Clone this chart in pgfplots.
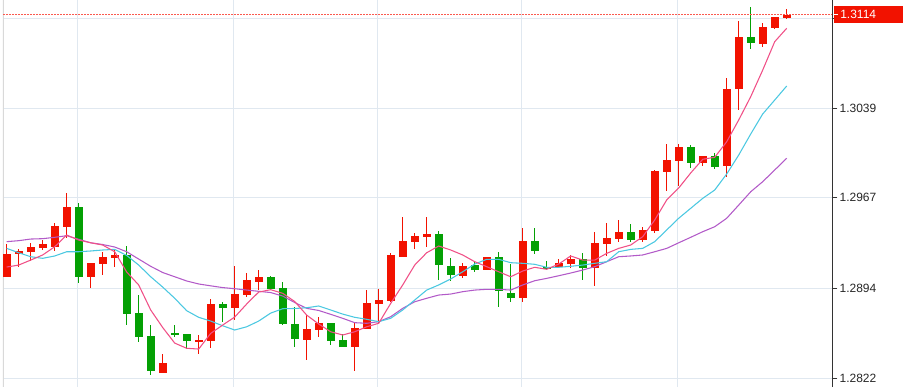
\documentclass[border=0pt]{standalone}
\usepackage{pgfplots}
\pgfplotsset{compat=1.18}
\usepackage{pgfplotstable}
\usepackage{fontspec}
\setmainfont{Liberation Sans}
\definecolor{cred}{RGB}{242,18,0}
\definecolor{cgreen}{RGB}{4,160,4}
\definecolor{maA}{RGB}{240,80,135}
\definecolor{maB}{RGB}{75,200,225}
\definecolor{maC}{RGB}{178,90,200}
\definecolor{gridc}{RGB}{224,232,240}
\definecolor{pline}{RGB}{250,90,80}

\pgfplotstableread{
x o h l c
0 1.29034 1.29295 1.29032 1.29214
1 1.29217 1.29257 1.29115 1.29243
2 1.29235 1.29303 1.29163 1.29273
3 1.29265 1.29329 1.29249 1.29295
4 1.29275 1.29463 1.29243 1.29442
5 1.29436 1.29704 1.29343 1.29592
7 1.29034 1.29142 1.28946 1.29142
8 1.29136 1.29235 1.29053 1.29193
9 1.29187 1.29249 1.29115 1.29214
13 1.28263 1.28415 1.28258 1.28343
16 1.28515 1.28563 1.28415 1.28525
17 1.28517 1.28855 1.28464 1.28815
19 1.28785 1.29123 1.28686 1.28893
20 1.28887 1.29064 1.28869 1.29005
21 1.28997 1.29086 1.28933 1.29032
25 1.28528 1.28726 1.28365 1.28614
26 1.28608 1.28713 1.28552 1.28665
29 1.28469 1.28660 1.28276 1.28622
30 1.28616 1.28933 1.28616 1.28823
31 1.28817 1.28933 1.28660 1.28847
32 1.28839 1.29222 1.28833 1.29214
33 1.29195 1.29512 1.29195 1.29321
34 1.29316 1.29383 1.29254 1.29361
35 1.29356 1.29512 1.29275 1.29377
38 1.29045 1.29142 1.29026 1.29123
40 1.29086 1.29193 1.29086 1.29193
43 1.28865 1.29423 1.28833 1.29324
46 1.29115 1.29174 1.29102 1.29144
47 1.29139 1.29209 1.29102 1.29174
49 1.29102 1.29391 1.28962 1.29303
50 1.29297 1.29463 1.29201 1.29343
51 1.29335 1.29490 1.29316 1.29391
53 1.29329 1.29431 1.29316 1.29410
54 1.29404 1.29892 1.29391 1.29884
55 1.29876 1.30101 1.29723 1.29972
56 1.29966 1.30101 1.29766 1.30079
58 1.29946 1.30004 1.29924 1.30004
60 1.29926 1.30629 1.29833 1.30540
61 1.30543 1.31092 1.30374 1.30958
63 1.30904 1.31071 1.30883 1.31039
64 1.31033 1.31124 1.31025 1.31119
65 1.31113 1.31183 1.31108 1.31140
}\candlesup

\pgfplotstableread{
x o h l c
6 1.29592 1.29624 1.28986 1.29034
10 1.29209 1.29281 1.28644 1.28737
11 1.28742 1.28885 1.28512 1.28547
12 1.28555 1.28646 1.28244 1.28276
14 1.28582 1.28646 1.28552 1.28568
15 1.28574 1.28574 1.28451 1.28517
18 1.28815 1.28833 1.28673 1.28785
22 1.29032 1.29042 1.28927 1.28935
23 1.28943 1.28994 1.28644 1.28656
24 1.28654 1.28793 1.28467 1.28531
27 1.28662 1.28662 1.28485 1.28520
28 1.28523 1.28571 1.28469 1.28469
36 1.29375 1.29401 1.29005 1.29128
37 1.29123 1.29182 1.29002 1.29048
39 1.29126 1.29155 1.29074 1.29088
41 1.29193 1.29235 1.28793 1.28921
42 1.28903 1.29136 1.28833 1.28865
44 1.29324 1.29423 1.29214 1.29243
45 1.29115 1.29163 1.29088 1.29096
48 1.29174 1.29222 1.29008 1.29102
52 1.29391 1.29463 1.29316 1.29329
57 1.30079 1.30093 1.29905 1.29946
59 1.30004 1.30031 1.29897 1.29918
62 1.30958 1.31204 1.30862 1.30910
}\candlesdown

\pgfplotstableread{
x m5 m10 m20
0 1.29112 1.29262 1.29316
1 1.29128 1.29227 1.29324
2 1.29168 1.29195 1.29337
3 1.29209 1.29182 1.29340
4 1.29275 1.29201 1.29351
5 1.29369 1.29235 1.29364
6 1.29329 1.29235 1.29335
7 1.29307 1.29241 1.29307
8 1.29289 1.29249 1.29293
9 1.29235 1.29254 1.29273
10 1.29072 1.29205 1.29235
11 1.28968 1.29128 1.29176
12 1.28767 1.29034 1.29118
13 1.28626 1.28951 1.29068
14 1.28501 1.28861 1.29034
15 1.28459 1.28761 1.29000
16 1.28453 1.28708 1.28976
17 1.28579 1.28678 1.28961
18 1.28646 1.28640 1.28947
19 1.28710 1.28606 1.28938
20 1.28815 1.28632 1.28927
21 1.28911 1.28678 1.28917
22 1.28930 1.28742 1.28907
23 1.28901 1.28777 1.28879
24 1.28835 1.28779 1.28827
25 1.28726 1.28785 1.28780
26 1.28654 1.28799 1.28763
27 1.28592 1.28767 1.28732
28 1.28566 1.28734 1.28700
29 1.28592 1.28708 1.28665
30 1.28632 1.28692 1.28660
31 1.28660 1.28673 1.28673
32 1.28820 1.28700 1.28713
33 1.28968 1.28767 1.28780
34 1.29128 1.28847 1.28833
35 1.29227 1.28927 1.28861
36 1.29281 1.28968 1.28887
37 1.29249 1.29016 1.28895
38 1.29209 1.29074 1.28914
39 1.29155 1.29136 1.28927
40 1.29115 1.29174 1.28933
41 1.29074 1.29174 1.28933
42 1.29034 1.29147 1.28927
43 1.29080 1.29142 1.28968
44 1.29110 1.29134 1.29002
45 1.29094 1.29110 1.29021
46 1.29136 1.29110 1.29042
47 1.29201 1.29118 1.29064
48 1.29168 1.29128 1.29088
49 1.29168 1.29142 1.29115
50 1.29222 1.29155 1.29155
51 1.29262 1.29235 1.29195
52 1.29289 1.29254 1.29201
53 1.29356 1.29262 1.29209
54 1.29490 1.29316 1.29235
55 1.29651 1.29410 1.29262
56 1.29747 1.29504 1.29307
57 1.29868 1.29584 1.29351
58 1.29978 1.29664 1.29396
59 1.29994 1.29731 1.29436
60 1.30119 1.29860 1.29504
61 1.30294 1.30012 1.29610
62 1.30481 1.30181 1.29717
63 1.30695 1.30342 1.29798
64 1.30923 1.30454 1.29892
65 1.31031 1.30567 1.29986
}\mavals

\begin{document}
\begin{tikzpicture}
\begin{axis}[
  at={(0,0)}, anchor=south west,
  scale only axis, width=621.975pt, height=290.25pt,
  xmin=-0.308, xmax=68.8, ymin=1.28148, ymax=1.31258,
  axis x line=none, axis y line*=right,
  y axis line style={draw=black!80, line width=0.75pt, -},
  ytick={1.2822,1.2894,1.2967,1.3039},
  yticklabels={1.2822,1.2894,1.2967,1.3039},
  extra y ticks={1.31113}, extra y tick labels={},
  ymajorgrids, major grid style={draw=gridc, line width=0.75pt},
  tick align=outside, major tick length=3.75pt,
  tick style={draw=black!80, line width=0.75pt},
  yticklabel style={font=\fontsize{9}{10}\selectfont, text=black!85, anchor=west, inner sep=0pt, xshift=1.5pt},
]
\pgfplotsinvokeforeach{5.94,18.94,30.94,42.94,55.94}{
  \draw[gridc, line width=0.75pt] (axis cs:#1,1.28148) -- (axis cs:#1,1.31258);
}
\draw[black!15, line width=1.5pt] (rel axis cs:0,0) -- (rel axis cs:0,1);

% wicks
\addplot[draw=none, mark=none, forget plot, error bars/.cd, y dir=both, y explicit, error mark=none,
  error bar style={draw=cred, line width=1pt}]
  table[x=x, y expr=(\thisrow{h}+\thisrow{l})/2, y error expr=(\thisrow{h}-\thisrow{l})/2] {\candlesup};
\addplot[draw=none, mark=none, forget plot, error bars/.cd, y dir=both, y explicit, error mark=none,
  error bar style={draw=cgreen, line width=1pt}]
  table[x=x, y expr=(\thisrow{h}+\thisrow{l})/2, y error expr=(\thisrow{h}-\thisrow{l})/2] {\candlesdown};
% bodies
\addplot[draw=none, mark=none, forget plot, error bars/.cd, y dir=both, y explicit, error mark=none,
  error bar style={draw=cred, line width=6pt}]
  table[x=x, y expr=(\thisrow{o}+\thisrow{c})/2, y error expr=abs(\thisrow{c}-\thisrow{o})/2] {\candlesup};
\addplot[draw=none, mark=none, forget plot, error bars/.cd, y dir=both, y explicit, error mark=none,
  error bar style={draw=cgreen, line width=6pt}]
  table[x=x, y expr=(\thisrow{o}+\thisrow{c})/2, y error expr=abs(\thisrow{c}-\thisrow{o})/2] {\candlesdown};

% moving averages
\addplot[maC, line width=0.8pt, mark=none] table[x=x, y=m20] {\mavals};
\addplot[maB, line width=0.8pt, mark=none] table[x=x, y=m10] {\mavals};
\addplot[maA, line width=0.8pt, mark=none] table[x=x, y=m5] {\mavals};

% current price
\addplot[pline, line width=0.75pt, dash pattern=on 1.5pt off 0.75pt, mark=none] coordinates {(-0.308,1.3114) (68.8,1.3114)};
\coordinate (cp) at (axis cs:68.8,1.3114);
\end{axis}
\node[fill=cred, anchor=west, minimum width=51.75pt, minimum height=13.2pt, inner sep=0pt] at ([xshift=1.3pt]cp) {};
\draw[white, line width=0.75pt] ([xshift=1.3pt]cp) -- ([xshift=4.2pt]cp);
\node[anchor=west, inner sep=0pt, text=white, font=\fontsize{9}{10}\selectfont] at ([xshift=5.8pt]cp) {1.3114};
\pgfresetboundingbox
\path[use as bounding box] (-2.25pt,0pt) rectangle (677.25pt,290.25pt);
\end{tikzpicture}
\end{document}
